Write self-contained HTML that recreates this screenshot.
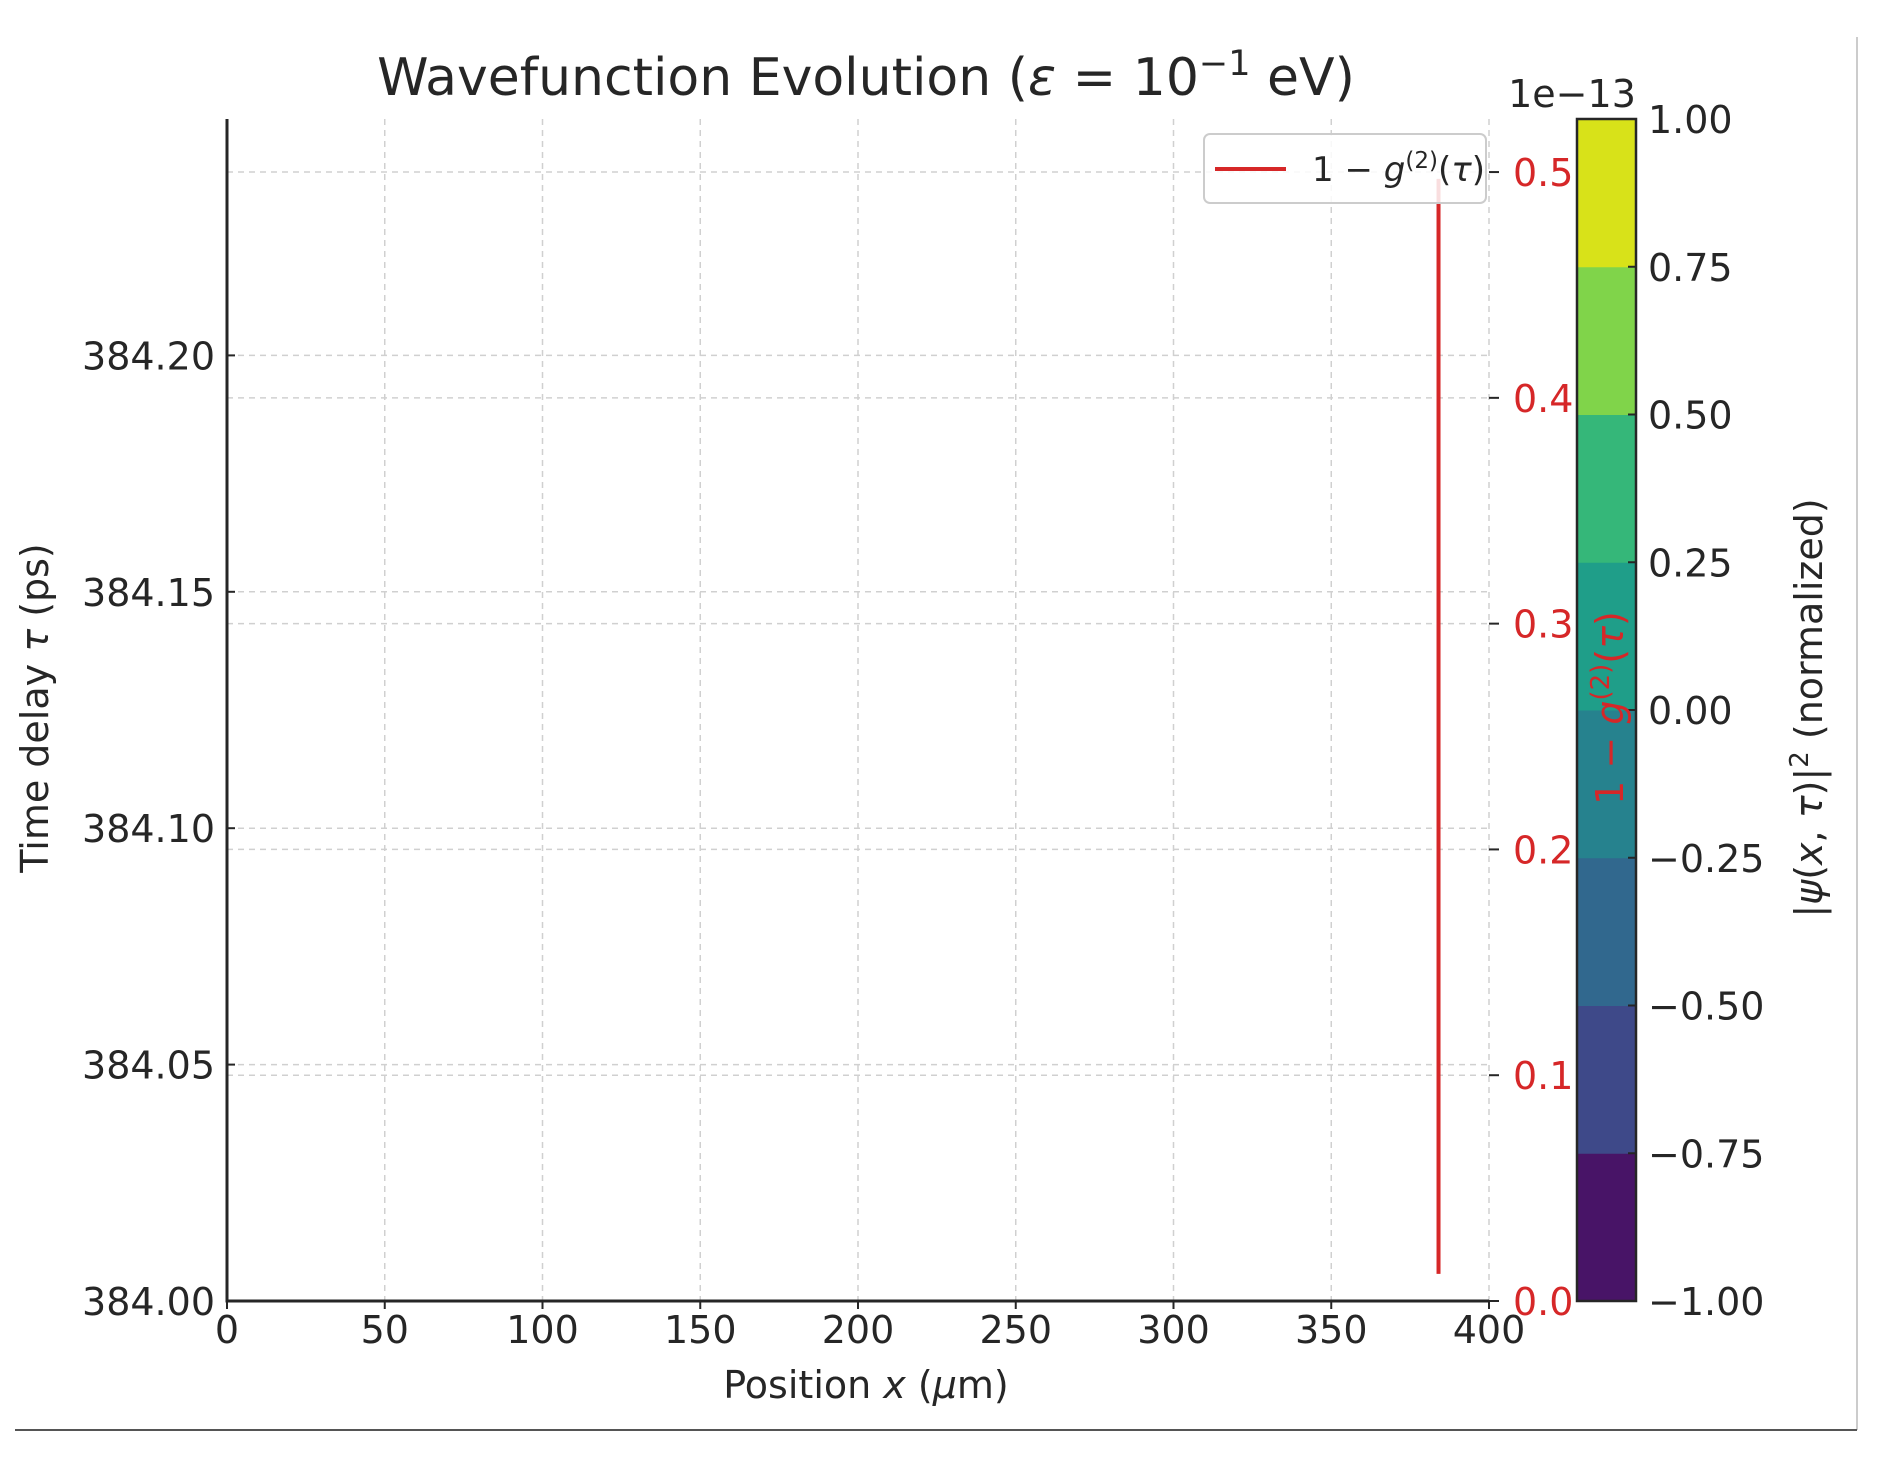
<!DOCTYPE html>
<html><head><meta charset="utf-8"><style>
html,body{margin:0;padding:0;background:#fff}
svg{display:block}
text{font-family:"DejaVu Sans","Liberation Sans",sans-serif;fill:#262626}
</style></head><body>
<svg id="chart" xmlns="http://www.w3.org/2000/svg" width="1891" height="1461" viewBox="0 0 1891 1461">
<rect width="1891" height="1461" fill="#fff"/>
<line x1="1857" y1="37" x2="1857" y2="1430" stroke="#ccc" stroke-width="2"/>
<line x1="15" y1="1430" x2="1857" y2="1430" stroke="#555" stroke-width="2"/>
<text x="866" y="95" font-size="52" text-anchor="middle">Wavefunction Evolution (<tspan font-style="italic">ε</tspan> = 10<tspan dy="-20" font-size="35">−1</tspan><tspan dy="20"> eV)</tspan></text>
<g id="grid"></g>
<g id="axes"></g>
<g id="series"></g>
<g id="cbar"></g>
<text x="866" y="1398" font-size="38" text-anchor="middle">Position <tspan font-style="italic">x</tspan> (<tspan font-style="italic">μ</tspan>m)</text>
<text transform="translate(48,708) rotate(-90)" font-size="38" text-anchor="middle">Time delay <tspan font-style="italic">τ</tspan> (ps)</text>
<text transform="translate(1623,708) rotate(-90)" font-size="38" text-anchor="middle" style="fill:#d62728">1 − <tspan font-style="italic" style="fill:#d62728">g</tspan><tspan dy="-14" font-size="26" style="fill:#d62728">(2)</tspan><tspan dy="14" style="fill:#d62728">(</tspan><tspan font-style="italic" style="fill:#d62728">τ</tspan><tspan style="fill:#d62728">)</tspan></text>
<text transform="translate(1822,708) rotate(-90)" font-size="38" text-anchor="middle">|<tspan font-style="italic">ψ</tspan>(<tspan font-style="italic">x</tspan>, <tspan font-style="italic">τ</tspan>)|<tspan dy="-14" font-size="26">2</tspan><tspan dy="14"> (normalized)</tspan></text>
<text x="1572" y="107" font-size="38" text-anchor="middle">1e−13</text>
<g>
<rect x="1204" y="134" width="282" height="69" rx="6" fill="#fff" fill-opacity="0.85" stroke="#ccc" stroke-width="2"/>
<line x1="1215" y1="169" x2="1286" y2="169" stroke="#d62728" stroke-width="4"/>
<text x="1312" y="181" font-size="34">1 − <tspan font-style="italic">g</tspan><tspan dy="-13" font-size="23">(2)</tspan><tspan dy="13">(</tspan><tspan font-style="italic">τ</tspan>)</text>
</g>
</svg>
<script>
const xTicks=[0,50,100,150,200,250,300,350,400];
const yTicks=[384.00,384.05,384.10,384.15,384.20];
const y2Ticks=[0.0,0.1,0.2,0.3,0.4,0.5];
const cbarLevels=[-1.00,-0.75,-0.50,-0.25,0.00,0.25,0.50,0.75,1.00];
const cbarColors=["#481467","#3e4989","#31688e","#26828e","#1f9e89","#35b779","#80d44a","#d8e219"];
const lineX=[384.0,384.0];
const lineY=[0.012,0.497];
const L=227,R=1489,T=119,B=1301;
const xMin=0,xMax=400,yMin=384.0,yMax=384.250,y2Min=0,y2Max=0.5235;
const sx=v=>L+(v-xMin)/(xMax-xMin)*(R-L);
const sy=v=>B-(v-yMin)/(yMax-yMin)*(B-T);
const sy2=v=>B-(v-y2Min)/(y2Max-y2Min)*(B-T);
const NS="http://www.w3.org/2000/svg";
function mk(tag,attrs,parent,txt){const e=document.createElementNS(NS,tag);for(const k in attrs)e.setAttribute(k,attrs[k]);if(txt!==undefined)e.textContent=txt;parent.appendChild(e);return e;}
const grid=document.getElementById('grid'),axes=document.getElementById('axes'),series=document.getElementById('series'),cbar=document.getElementById('cbar');
xTicks.forEach(v=>{
  const g=mk('line',{x1:sx(v),x2:sx(v),y1:T,y2:B,stroke:'#d0d0d0','stroke-width':1.5,'stroke-dasharray':'6,5'},grid);
  
  
  mk('line',{x1:sx(v),x2:sx(v),y1:B,y2:B+8,stroke:'#262626','stroke-width':2},axes);
  const t=mk('text',{x:sx(v),y:1343,'font-size':38,'text-anchor':'middle'},axes,String(v));
  
  
});
yTicks.forEach(v=>{
  const g=mk('line',{x1:L,x2:R,y1:sy(v),y2:sy(v),stroke:'#d0d0d0','stroke-width':1.5,'stroke-dasharray':'6,5'},grid);
  
  
  mk('line',{x1:L,x2:L+8,y1:sy(v),y2:sy(v),stroke:'#262626','stroke-width':2},axes);
  const t=mk('text',{x:L-12,y:sy(v)+14,'font-size':38,'text-anchor':'end'},axes,v.toFixed(2));
  
  
});
y2Ticks.forEach(v=>{
  const g=mk('line',{x1:L,x2:R,y1:sy2(v),y2:sy2(v),stroke:'#d0d0d0','stroke-width':1.5,'stroke-dasharray':'6,5'},grid);
  
  
  mk('line',{x1:R,x2:R+10,y1:sy2(v),y2:sy2(v),stroke:'#262626','stroke-width':2},axes);
  const t=mk('text',{x:R+24,y:sy2(v)+14,'font-size':38,style:'fill:#d62728'},axes,v.toFixed(1));
  
  
});
const ax=mk('path',{d:`M${L},${T} L${L},${B} L${R},${B}`,fill:'none',stroke:'#262626','stroke-width':3},axes);


const pts=lineX.map((x,i)=>sx(x)+','+sy2(lineY[i])).join(' ');
const pl=mk('polyline',{points:pts,fill:'none',stroke:'#d62728','stroke-width':4},series);


const CL=1577,CR=1636;
const cy=v=>B-(v-cbarLevels[0])/(cbarLevels[cbarLevels.length-1]-cbarLevels[0])*(B-T);
cbarColors.forEach((c,i)=>{
  const r=mk('rect',{x:CL,y:cy(cbarLevels[i+1]),width:CR-CL,height:cy(cbarLevels[i])-cy(cbarLevels[i+1])+0.5,fill:c},cbar);
  
  
});
mk('rect',{x:CL,y:T,width:CR-CL,height:B-T,fill:'none',stroke:'#262626','stroke-width':2.5},cbar);
cbarLevels.forEach(v=>{
  mk('line',{x1:CR-8,x2:CR,y1:cy(v),y2:cy(v),stroke:'#262626','stroke-width':2},cbar);
  const t=mk('text',{x:CR+12,y:cy(v)+14,'font-size':38},cbar,(v<0?'−':'')+Math.abs(v).toFixed(2));
  
  
});
</script>
</body></html>
